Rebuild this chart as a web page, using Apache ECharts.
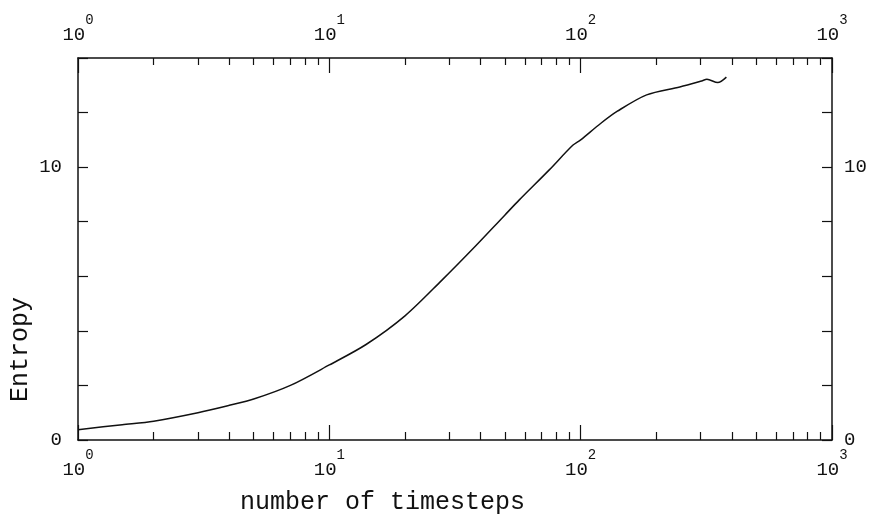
<!DOCTYPE html>
<html>
<head>
<meta charset="utf-8">
<script src="https://cdn.jsdelivr.net/npm/echarts@6/dist/echarts.min.js"></script>
<style>html,body{margin:0;padding:0;background:#fff;}#c{width:875px;height:520px;}</style>
</head>
<body>
<div id="c"></div>
<script>
// Data
var steps   = [1, 1.5, 2, 3, 4, 5, 7, 10, 14, 20, 28, 37, 50, 57, 75, 93, 100, 120, 140, 183, 248, 303, 318, 351, 380];
var entropy = [0.38, 0.56, 0.69, 1.0, 1.27, 1.5, 2.0, 2.75, 3.5, 4.55, 5.85, 6.98, 8.25, 8.8, 9.9, 10.8, 11.0, 11.6, 12.05, 12.65, 12.94, 13.16, 13.22, 13.1, 13.3];
var minorSteps = [2,3,4,5,6,7,8,9,20,30,40,50,60,70,80,90,200,300,400,500,600,700,800,900];
var yLabelled = [0, 10];
var xTitle = 'number of timesteps';
var yTitle = 'Entropy';

var FONT = 'Liberation Mono';
var minorLog = minorSteps.map(function (v) { return Math.log10(v); });
var points = steps.map(function (s, i) { return [s, entropy[i]]; });

function expLabel(v) {
  var e = Math.round(Math.log10(v));
  return '{b|10}{s|' + e + '}';
}
var richX = {
  b: { fontFamily: FONT, fontSize: 19, color: '#111', lineHeight: 44 },
  s: { fontFamily: FONT, fontSize: 14, color: '#111', verticalAlign: 'top' }
};
function yFmt(v) { return yLabelled.indexOf(v) >= 0 ? String(v) : ''; }

var chart = echarts.init(document.getElementById('c'), null, { renderer: 'canvas' });
chart.setOption({
  backgroundColor: '#fff',
  animation: false,
  grid: { left: 78, right: 43, top: 58, bottom: 80, containLabel: false },
  xAxis: [
    {
      type: 'log', logBase: 10, min: 1, max: 1000, position: 'bottom',
      axisLine: { onZero: false, lineStyle: { color: '#111', width: 1.5 } },
      axisTick: { inside: true, length: 15, lineStyle: { color: '#111', width: 1.2 } },
      axisLabel: { formatter: expLabel, rich: richX, margin: 8 },
      splitLine: { show: false }
    },
    {
      type: 'value', min: 0, max: 3, position: 'bottom',
      axisLine: { show: false, onZero: false },
      axisTick: { inside: true, length: 8, customValues: minorLog, lineStyle: { color: '#111', width: 1.2 } },
      axisLabel: { show: false },
      splitLine: { show: false }
    },
    {
      type: 'log', logBase: 10, min: 1, max: 1000, position: 'top',
      axisLine: { onZero: false, lineStyle: { color: '#111', width: 1.5 } },
      axisTick: { inside: true, length: 15, lineStyle: { color: '#111', width: 1.2 } },
      axisLabel: { formatter: expLabel, rich: richX, margin: 1 },
      splitLine: { show: false }
    },
    {
      type: 'value', min: 0, max: 3, position: 'top',
      axisLine: { show: false, onZero: false },
      axisTick: { inside: true, length: 7, customValues: minorLog, lineStyle: { color: '#111', width: 1.2 } },
      axisLabel: { show: false },
      splitLine: { show: false }
    }
  ],
  yAxis: [
    {
      type: 'value', min: 0, max: 14, interval: 2, position: 'left',
      axisLine: { show: true, onZero: false, lineStyle: { color: '#111', width: 1.5 } },
      axisTick: { show: true, inside: true, length: 10, lineStyle: { color: '#111', width: 1.2 } },
      axisLabel: { formatter: yFmt, fontFamily: FONT, fontSize: 19, color: '#111', margin: 16 },
      splitLine: { show: false }
    },
    {
      type: 'value', min: 0, max: 14, interval: 2, position: 'right',
      axisLine: { show: true, onZero: false, lineStyle: { color: '#111', width: 1.5 } },
      axisTick: { show: true, inside: true, length: 10, lineStyle: { color: '#111', width: 1.2 } },
      axisLabel: { formatter: yFmt, fontFamily: FONT, fontSize: 19, color: '#111', margin: 12 },
      splitLine: { show: false }
    }
  ],
  graphic: [
    { type: 'text', left: 240, top: 490,
      style: { text: xTitle, fontFamily: FONT, fontSize: 25, fill: '#111' } },
    { type: 'text', x: 8, y: 402, rotation: Math.PI / 2,
      style: { text: yTitle, fontFamily: FONT, fontSize: 25, fill: '#111' } }
  ],
  series: [{
    type: 'line', xAxisIndex: 0, yAxisIndex: 0,
    data: points, showSymbol: false, smooth: 0.3,
    lineStyle: { color: '#111', width: 1.5 }
  }]
});
</script>
</body>
</html>
